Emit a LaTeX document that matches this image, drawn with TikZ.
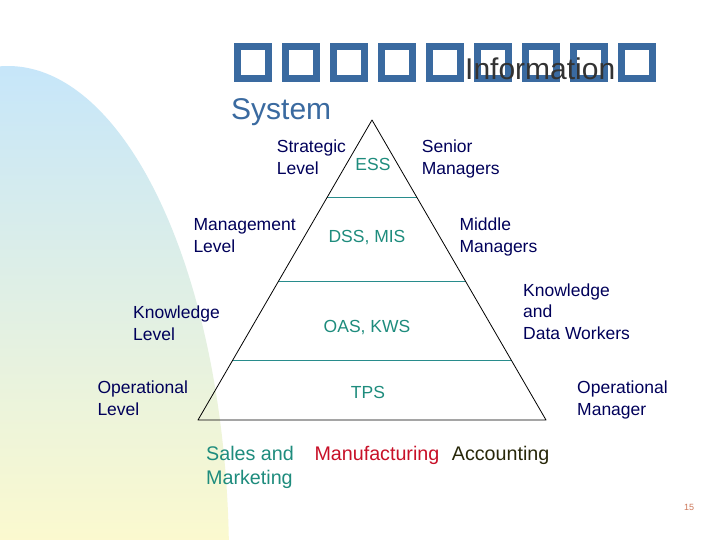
\documentclass[tikz,border=0pt]{standalone}
\usepackage{fontspec}
\setmainfont{Liberation Sans}
\usetikzlibrary{calc}
\definecolor{titleblue}{RGB}{58,106,160}
\definecolor{navy}{RGB}{0,0,90}
\definecolor{tealtxt}{RGB}{30,140,125}
\definecolor{tealline}{RGB}{40,140,140}
\definecolor{redtxt}{RGB}{200,16,40}
\definecolor{darktxt}{RGB}{40,40,10}
\definecolor{infogray}{RGB}{51,51,51}
\definecolor{bgblue}{RGB}{198,230,250}
\definecolor{bgmid}{RGB}{228,242,228}
\definecolor{bgyellow}{RGB}{253,250,205}
\definecolor{pagenum}{RGB}{205,120,90}
\begin{document}
\begin{tikzpicture}[x=1pt,y=-1pt,
  lbl/.style={anchor=base west,inner sep=0,align=left,font=\fontsize{17.5}{21.6}\selectfont,text=navy},
  sysname/.style={anchor=base,inner sep=0,font=\fontsize{17.5}{21}\selectfont,text=tealtxt},
  dept/.style={anchor=base west,inner sep=0,align=left,font=\fontsize{19.7}{23.6}\selectfont},
  tbox/.style={draw=titleblue,line width=7pt},
  level/.style={draw=tealline,line width=1pt},
  edge/.style={draw=black,line width=0.8pt}]
\useasboundingbox (0,0) rectangle (720,540);
\fill[white] (0,0) rectangle (720,540);
% background swoosh
\shade[top color=bgblue,middle color=bgmid,bottom color=bgyellow]
  (229,560) arc[start angle=0,end angle=-92.07,x radius=221,y radius=494] -- (0,560) -- cycle;
% title
\foreach \i in {0,...,8}
  \draw[tbox] (237.5+48*\i,46.5) rectangle ++(31,32);
\node[anchor=base west,inner sep=0,font=\fontsize{30}{36}\selectfont,text=infogray] (info) at (465,79.3) {Information};
\node[anchor=base west,inner sep=0,font=\fontsize{30}{36}\selectfont,text=titleblue] (sys) at (231,119.3) {System};
% pyramid
\coordinate (apex) at (372,120);
\coordinate (bl) at (198,420);
\coordinate (br) at (546,420);
\draw[level] ($(apex)!0.26!(bl)$) -- ($(apex)!0.26!(br)$);
\draw[level] ($(apex)!0.54!(bl)$) -- ($(apex)!0.54!(br)$);
\draw[level] ($(apex)!0.80!(bl)$) -- ($(apex)!0.80!(br)$);
\draw[edge,line join=round] (apex) -- (br) -- (bl) -- cycle;
% systems
\node[sysname] (ess) at (373,170.7) {ESS};
\node[sysname] (dss) at (367,242.7) {DSS, MIS};
\node[sysname] (oas) at (367,332.7) {OAS, KWS};
\node[sysname] (tps) at (368,398.7) {TPS};
% levels (anchor = baseline of last line)
\node[lbl] (strat) at (276.7,174.3) {Strategic\\Level};
\node[lbl] (senior) at (421.7,174.3) {Senior\\Managers};
\node[lbl] (mgmt) at (193.3,252.5) {Management\\Level};
\node[lbl] (middle) at (459.3,252.5) {Middle\\Managers};
\node[lbl] (know) at (133,340) {Knowledge\\Level};
\node[lbl] (kwork) at (523,339.5) {Knowledge\\and\\Data Workers};
\node[lbl] (oper) at (97.3,415) {Operational\\Level};
\node[lbl] (opman) at (577,415) {Operational\\Manager};
% departments
\node[dept,text=tealtxt] (sales) at (206,484.3) {Sales and\\Marketing};
\node[dept,text=redtxt] (manu) at (314.3,460.7) {Manufacturing};
\node[dept,text=darktxt] (acct) at (451.7,460.7) {Accounting};
\node[anchor=base,inner sep=0,font=\fontsize{9}{10}\selectfont,text=pagenum] (page) at (689,510.7) {15};
\end{tikzpicture}
\end{document}
